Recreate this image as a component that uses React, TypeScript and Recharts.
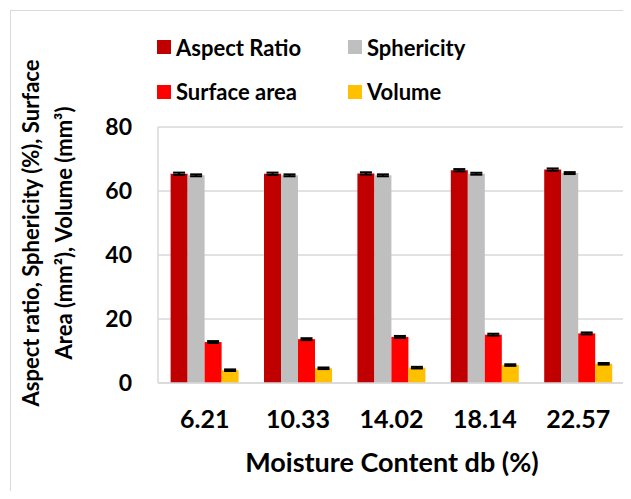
import { BarChart, Bar, XAxis, YAxis, CartesianGrid, Legend, ErrorBar } from "recharts";

const categories = ["6.21", "10.33", "14.02", "18.14", "22.57"];
const aspectRatio = [65.4, 65.4, 65.5, 66.5, 66.7];
const sphericity = [64.9, 64.9, 64.9, 65.4, 65.6];
const surfaceArea = [12.8, 13.7, 14.4, 15.1, 15.5];
const volume = [4.0, 4.6, 4.8, 5.6, 6.0];
const errAspect = [0.35, 0.35, 0.35, 0.35, 0.35];
const errSphericity = [0.3, 0.3, 0.3, 0.3, 0.3];
const errSurface = [0.3, 0.3, 0.3, 0.3, 0.3];
const errVolume = [0.25, 0.25, 0.25, 0.25, 0.25];
const yTicks = [0, 20, 40, 60, 80];

const data = categories.map((c, i) => ({
  moisture: c,
  aspectRatio: aspectRatio[i],
  sphericity: sphericity[i],
  surfaceArea: surfaceArea[i],
  volume: volume[i],
  eA: errAspect[i],
  eS: errSphericity[i],
  eSA: errSurface[i],
  eV: errVolume[i],
}));

const FONT = "Lato, 'Open Sans', sans-serif";

function LegendGrid(props: any) {
  const payload = props.payload || [];
  const cols = [157, 348];
  const rows = [47, 91.5];
  return (
    <div style={{ position: "relative", width: 631, height: 110 }}>
      {payload.map((p: any, i: number) => (
        <div
          key={p.value}
          style={{
            position: "absolute",
            left: cols[i % 2],
            top: rows[Math.floor(i / 2)] - 15,
            height: 30,
            display: "flex",
            alignItems: "center",
            fontFamily: FONT,
            fontWeight: 700,
            fontSize: 22,
            color: "#000",
            whiteSpace: "nowrap",
          }}
        >
          <span style={{ width: 14, height: 14, background: p.color, display: "inline-block", marginRight: 5 }} />
          {p.value}
        </div>
      ))}
    </div>
  );
}

function YTitle() {
  return (
    <g>
      <text
        transform="translate(39,233) rotate(-90)"
        textAnchor="middle"
        fontFamily={FONT}
        fontWeight={700}
        fontSize={22}
        fill="#000"
      >
        Aspect ratio, Sphericity (%), Surface
      </text>
      <text
        transform="translate(72,233) rotate(-90)"
        textAnchor="middle"
        fontFamily={FONT}
        fontWeight={700}
        fontSize={22}
        fill="#000"
      >
        Area (mm²), Volume (mm³)
      </text>
    </g>
  );
}

function XTitle() {
  return (
    <text x={392} y={472} textAnchor="middle" fontFamily={FONT} fontWeight={700} fontSize={27} fill="#000">
      Moisture Content db (%)
    </text>
  );
}

export default function App() {
  return (
    <div style={{ position: "relative", margin: -8, width: 631, height: 499, overflow: "hidden", background: "#fff" }}>
      <div
        style={{
          position: "absolute",
          left: 10,
          top: 10,
          width: 660,
          height: 540,
          border: "1.5px solid #D9D9D9",
        }}
      />
      <div style={{ position: "absolute", left: 0, top: 0 }}>
        <BarChart
          width={631}
          height={499}
          data={data}
          margin={{ top: 17, right: 6, left: 0, bottom: 0 }}
          barGap={0}
          barCategoryGap="13.5%"
        >
          <CartesianGrid vertical={false} stroke="#D9D9D9" strokeWidth={1.5} />
          <XAxis
            dataKey="moisture"
            axisLine={{ stroke: "#D9D9D9", strokeWidth: 1.5 }}
            tickLine={false}
            tickSize={0}
            tickMargin={27}
            tick={{ fontFamily: FONT, fontWeight: 700, fontSize: 25, fill: "#000" }}
            height={116}
            label={<XTitle />}
          />
          <YAxis
            domain={[0, 80]}
            ticks={yTicks}
            width={158}
            axisLine={{ stroke: "#D9D9D9", strokeWidth: 1.5 }}
            tickLine={false}
            tickSize={0}
            tickMargin={26}
            tick={{ fontFamily: FONT, fontWeight: 700, fontSize: 23, fill: "#000" }}
            label={<YTitle />}
          />
          <Legend
            verticalAlign="top"
            align="left"
            content={<LegendGrid />}
            wrapperStyle={{ left: 0, top: 0, width: 631, height: 110 }}
          />
          <Bar dataKey="aspectRatio" name="Aspect Ratio" fill="#C00000" isAnimationActive={false}>
            <ErrorBar dataKey="eA" width={6} strokeWidth={2} stroke="#000" direction="y" />
          </Bar>
          <Bar dataKey="sphericity" name="Sphericity" fill="#BFBFBF" isAnimationActive={false}>
            <ErrorBar dataKey="eS" width={6} strokeWidth={2} stroke="#000" direction="y" />
          </Bar>
          <Bar dataKey="surfaceArea" name="Surface area" fill="#FF0000" isAnimationActive={false}>
            <ErrorBar dataKey="eSA" width={6} strokeWidth={2} stroke="#000" direction="y" />
          </Bar>
          <Bar dataKey="volume" name="Volume" fill="#FFC000" isAnimationActive={false}>
            <ErrorBar dataKey="eV" width={6} strokeWidth={2} stroke="#000" direction="y" />
          </Bar>
        </BarChart>
      </div>
    </div>
  );
}
